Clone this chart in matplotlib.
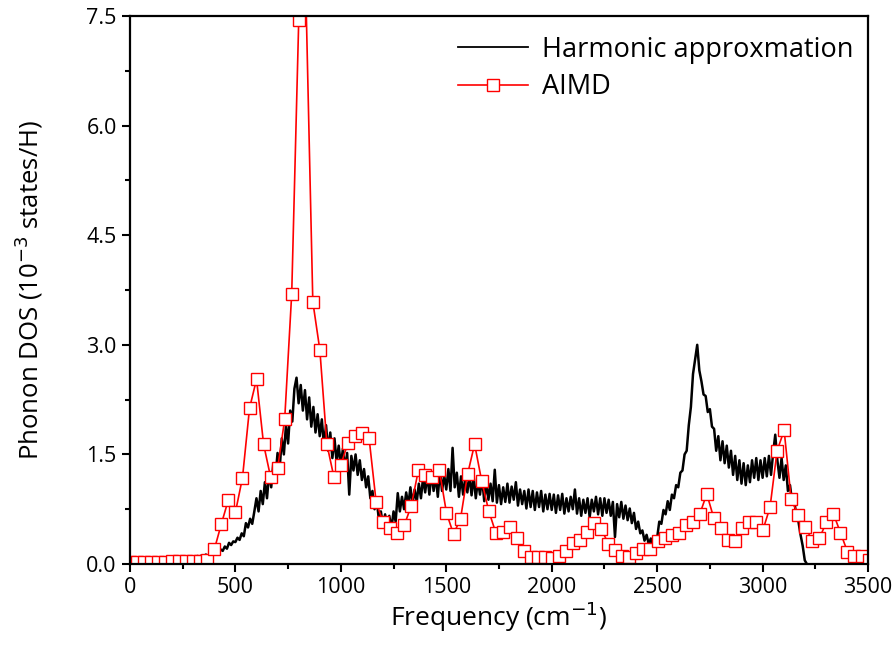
import numpy as np
import matplotlib
matplotlib.use("Agg")
import matplotlib.pyplot as plt
from matplotlib.ticker import MultipleLocator, FormatStrFormatter

# harmonic approximation, read every 10 cm-1 from 0 to 3210
harm_step = 10
harm_dos = [
    0.01, 0.01, 0.02, 0.01, 0.02, 0.01, 0.02, 0.02, 0.01, 0.02,
    0.02, 0.03, 0.02, 0.03, 0.02, 0.03, 0.04, 0.03, 0.08, 0.04,
    0.05, 0.04, 0.06, 0.05, 0.07, 0.06, 0.08, 0.06, 0.09, 0.07,
    0.10, 0.08, 0.11, 0.09, 0.12, 0.10, 0.13, 0.11, 0.14, 0.12,
    0.15, 0.17, 0.14, 0.20, 0.18, 0.24, 0.21, 0.29, 0.26, 0.31,
    0.30, 0.36, 0.33, 0.42, 0.38, 0.56, 0.50, 0.62, 0.55, 0.72,
    0.90, 0.72, 1.00, 0.82, 1.12, 0.90, 1.25, 1.05, 1.38, 1.18,
    1.52, 1.30, 1.72, 1.50, 1.90, 1.65, 2.10, 1.95, 2.40, 2.55,
    2.20, 2.45, 2.10, 2.38, 1.98, 2.28, 1.88, 2.15, 1.80, 2.05,
    1.75, 1.98, 1.62, 1.90, 1.55, 1.80, 1.45, 1.72, 1.40, 1.62,
    1.35, 1.58, 1.30, 1.52, 0.95, 1.48, 1.28, 1.50, 1.22, 1.42,
    1.15, 1.30, 1.05, 1.20, 0.90, 1.00, 0.75, 0.88, 0.62, 0.72,
    0.52, 0.68, 0.50, 0.66, 0.48, 0.72, 0.58, 0.97, 0.72, 0.92,
    0.75, 0.98, 0.80, 1.05, 0.82, 1.02, 0.85, 1.10, 0.90, 1.18,
    0.98, 1.22, 0.95, 1.25, 1.00, 1.20, 0.92, 1.28, 1.00, 1.22,
    1.02, 1.30, 1.00, 1.59, 1.05, 1.25, 0.92, 1.20, 0.95, 1.18,
    0.98, 1.22, 0.94, 1.20, 0.90, 1.15, 0.95, 1.18, 0.86, 1.12,
    0.88, 1.10, 0.86, 1.29, 0.84, 1.08, 0.82, 1.05, 0.85, 1.10,
    0.84, 1.06, 0.88, 1.12, 0.80, 1.02, 0.82, 1.00, 0.76, 1.02,
    0.78, 1.00, 0.74, 0.98, 0.78, 1.00, 0.72, 0.95, 0.75, 0.96,
    0.74, 0.95, 0.70, 0.94, 0.74, 0.96, 0.69, 0.90, 0.72, 0.92,
    0.75, 1.02, 0.69, 0.90, 0.66, 0.88, 0.70, 0.90, 0.64, 0.88,
    0.72, 0.92, 0.68, 0.90, 0.66, 0.90, 0.70, 0.88, 0.66, 0.85,
    0.37, 0.82, 0.64, 0.85, 0.62, 0.80, 0.60, 0.76, 0.56, 0.70,
    0.48, 0.58, 0.42, 0.46, 0.32, 0.40, 0.27, 0.35, 0.25, 0.38,
    0.36, 0.58, 0.55, 0.74, 0.68, 0.86, 0.74, 0.95, 0.90, 1.08,
    1.05, 1.25, 1.28, 1.50, 1.55, 1.90, 2.15, 2.60, 2.80, 3.00,
    2.65, 2.50, 2.32, 2.30, 2.08, 2.12, 1.88, 1.85, 1.55, 1.75,
    1.42, 1.68, 1.38, 1.62, 1.32, 1.55, 1.22, 1.48, 1.15, 1.42,
    1.10, 1.38, 1.08, 1.35, 1.12, 1.42, 1.18, 1.45, 1.15, 1.42,
    1.18, 1.45, 1.20, 1.48, 1.22, 1.52, 1.77, 1.42, 1.18, 1.45,
    1.15, 1.35, 1.00, 1.08, 0.85, 0.88, 0.65, 0.58, 0.40, 0.25,
    0.05, 0.00,
]
harm_freq = np.arange(len(harm_dos)) * harm_step

# AIMD, one point per THz (33.356 cm-1)
aimd_step = 33.356
aimd_dos = [
    0.03, 0.03, 0.03, 0.03, 0.03, 0.03, 0.04, 0.04, 0.04, 0.04,
    0.04, 0.05, 0.20, 0.55, 0.88, 0.71, 1.18, 2.13, 2.53, 1.64,
    1.19, 1.31, 1.98, 3.70, 7.45, 7.85, 3.59, 2.93, 1.64, 1.19,
    1.36, 1.66, 1.75, 1.80, 1.72, 0.85, 0.57, 0.49, 0.42, 0.53,
    0.80, 1.28, 1.22, 1.19, 1.28, 0.70, 0.41, 0.62, 1.23, 1.64,
    1.14, 0.73, 0.43, 0.44, 0.50, 0.35, 0.18, 0.10, 0.09, 0.09,
    0.08, 0.11, 0.18, 0.29, 0.33, 0.44, 0.56, 0.48, 0.28, 0.19,
    0.11, 0.09, 0.15, 0.20, 0.20, 0.31, 0.35, 0.40, 0.43, 0.54,
    0.58, 0.68, 0.96, 0.63, 0.49, 0.33, 0.32, 0.49, 0.57, 0.58,
    0.47, 0.78, 1.55, 1.83, 0.89, 0.67, 0.51, 0.32, 0.35, 0.57,
    0.69, 0.43, 0.17, 0.11, 0.11, 0.06,
]
aimd_freq = np.arange(len(aimd_dos)) * aimd_step

plt.rcParams['font.family'] = ['Open Sans', 'DejaVu Sans']

fig = plt.figure(figsize=(8.96, 6.62), dpi=100)
ax = fig.add_axes([0.145, 0.148, 0.8238, 0.8278])

ax.plot(harm_freq, harm_dos, color='black', lw=1.8, label='Harmonic approxmation')
ax.plot(aimd_freq, aimd_dos, color='red', lw=1.2, marker='s', ms=8,
        mfc='white', mec='red', mew=1.0, label='AIMD')

ax.set_xlim(0, 3500)
ax.set_ylim(0, 7.5)
ax.xaxis.set_major_locator(MultipleLocator(500))
ax.xaxis.set_minor_locator(MultipleLocator(250))
ax.yaxis.set_major_locator(MultipleLocator(1.5))
ax.yaxis.set_minor_locator(MultipleLocator(0.75))
ax.yaxis.set_major_formatter(FormatStrFormatter('%.1f'))
ax.tick_params(which='both', direction='out', width=1.5, labelsize=15.5,
               top=False, right=False)
ax.tick_params(which='major', length=6)
ax.tick_params(which='minor', length=3.5)
for s in ax.spines.values():
    s.set_linewidth(1.6)

ax.set_xlabel('Frequency (cm$^{-1}$)', fontsize=19, labelpad=1)
ax.set_ylabel('Phonon DOS (10$^{-3}$ states/H)', fontsize=18.5, labelpad=30)

leg = ax.legend(loc='upper right', bbox_to_anchor=(1.011, 1.006), frameon=False,
                fontsize=19.5, handlelength=2.6, borderaxespad=0.45,
                labelspacing=0.35, handletextpad=0.5)
leg.get_lines()[0].set_linewidth(1.3)

fig.savefig('out.png', dpi=100)
